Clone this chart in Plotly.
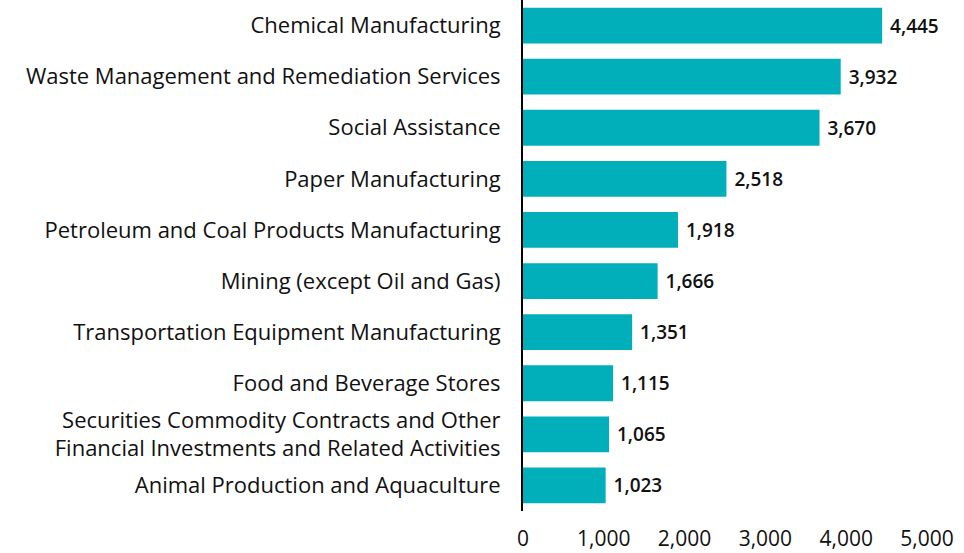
import plotly.graph_objects as go

categories = [
    "Chemical Manufacturing",
    "Waste Management and Remediation Services",
    "Social Assistance",
    "Paper Manufacturing",
    "Petroleum and Coal Products Manufacturing",
    "Mining (except Oil and Gas)",
    "Transportation Equipment Manufacturing",
    "Food and Beverage Stores",
    "Securities Commodity Contracts and Other<br>Financial Investments and Related Activities",
    "Animal Production and Aquaculture",
]
values = [4445, 3932, 3670, 2518, 1918, 1666, 1351, 1115, 1065, 1023]
x_ticks = [0, 1000, 2000, 3000, 4000, 5000]
x_tick_labels = ["0", "1,000", "2,000", "3,000", "4,000", "5,000"]

FONT = "Open Sans"

fig = go.Figure(
    go.Bar(
        x=values,
        y=categories,
        orientation="h",
        marker=dict(color="#00AFBA", line=dict(width=0)),
        text=["\u00a0" + f"{v:,}" for v in values],
        textposition="outside",
        textfont=dict(family=FONT, size=19, color="#111111", weight=600),
        cliponaxis=False,
        hoverinfo="skip",
    )
)

fig.update_layout(
    width=964,
    height=553,
    margin=dict(l=523, r=37, t=0, b=42),
    paper_bgcolor="white",
    plot_bgcolor="white",
    bargap=0.3,
    showlegend=False,
    font=dict(family=FONT, size=22, color="#111111"),
)

fig.update_xaxes(
    range=[0, 5000],
    tickvals=x_ticks,
    ticktext=x_tick_labels,
    showgrid=False,
    zeroline=False,
    showline=False,
    ticks="outside",
    ticklen=9,
    tickcolor="rgba(0,0,0,0)",
    tickfont=dict(family=FONT, size=21, color="#111111"),
    automargin=False,
)

fig.update_yaxes(
    autorange="reversed",
    showgrid=False,
    zeroline=False,
    showline=True,
    linecolor="black",
    linewidth=2,
    ticks="",
    ticklabelstandoff=16,
    tickfont=dict(family=FONT, size=22, color="#111111"),
    automargin=False,
)

fig.write_html(
    "out.html",
    config={"displayModeBar": False},
    post_script="document.body.style.margin='0';document.body.style.overflow='hidden';",
)
